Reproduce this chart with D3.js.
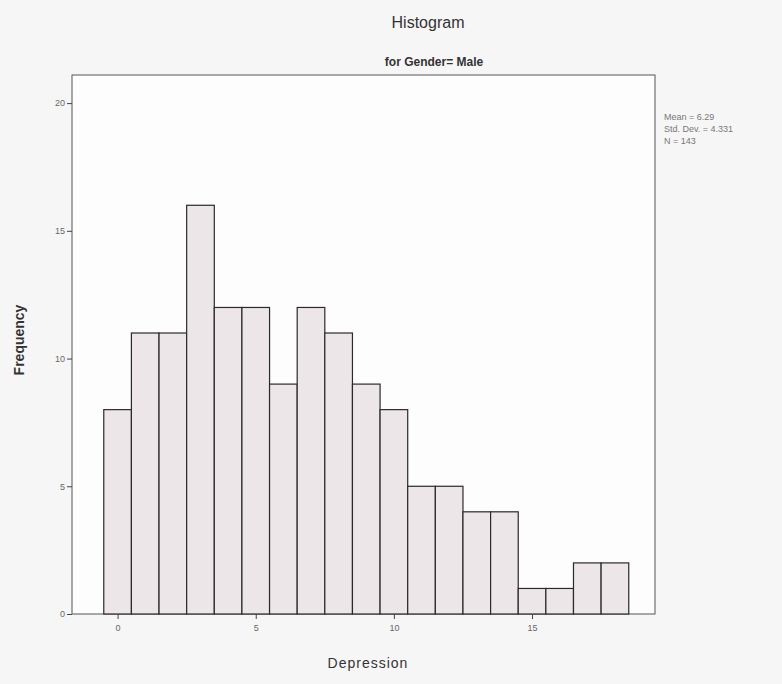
<!DOCTYPE html>
<html>
<head>
	<title>Histogram</title>
	<script src="https://cdn.jsdelivr.net/npm/d3@7"></script>
</head>
<style type="text/css">
body { margin: 0; background-color: #f7f6f6; }
.tick text { font-family: "Liberation Sans", Arial, sans-serif; font-size: 9px; fill: #666; }
.ttl { font-family: "Liberation Sans", Arial, sans-serif; fill: #333; }
</style>
<body>
</body>
<script type="text/javascript">
	var w = 782;
	var h = 684;
	// data
	var depression = [0, 1, 2, 3, 4, 5, 6, 7, 8, 9, 10, 11, 12, 13, 14, 15, 16, 17, 18];
	var frequency = [8, 11, 11, 16, 12, 12, 9, 12, 11, 9, 8, 5, 5, 4, 4, 1, 1, 2, 2];
	var xTicks = [0, 5, 10, 15];
	var yTicks = [0, 5, 10, 15, 20];
	var stats = ["Mean = 6.29", "Std. Dev. = 4.331", "N = 143"];

	var margin = {top: 75, left: 72, right: 127, bottom: 70};
	var svg = d3.select("body").append("svg").attr("width", w).attr("height", h);

	var x = d3.scaleLinear().domain([-1.65, 19.45]).range([margin.left, w - margin.right]);
	var y = d3.scaleLinear().domain([0, 21.1]).range([h - margin.bottom, margin.top]);

	// frame
	svg.append("rect")
		.attr("x", margin.left).attr("y", margin.top)
		.attr("width", w - margin.right - margin.left)
		.attr("height", h - margin.bottom - margin.top)
		.attr("fill", "#fdfdfd").attr("stroke", "#555").attr("stroke-width", 1);

	// bars
	svg.selectAll(".bar").data(depression).enter().append("rect")
		.attr("class", "bar")
		.attr("x", function(d){return x(d - 0.5);})
		.attr("width", function(d){return x(d + 0.5) - x(d - 0.5);})
		.attr("y", function(d,i){return y(frequency[i]);})
		.attr("height", function(d,i){return y(0) - y(frequency[i]);})
		.attr("fill", "#ede6e9")
		.attr("stroke", "#2a2a2a")
		.attr("stroke-width", 1.2);

	var xAxis = d3.axisBottom(x).tickValues(xTicks).tickSize(5).tickPadding(6);
	var yAxis = d3.axisLeft(y).tickValues(yTicks).tickSize(5).tickPadding(2);

	var gx = svg.append("g").attr("transform", "translate(0," + (h - margin.bottom) + ")").call(xAxis);
	var gy = svg.append("g").attr("transform", "translate(" + margin.left + ",0)").call(yAxis);
	gx.select(".domain").remove();
	gy.select(".domain").remove();
	svg.selectAll(".tick line").attr("stroke", "#444");

	// titles
	svg.append("text").attr("class", "ttl").attr("x", 428).attr("y", 28)
		.attr("text-anchor", "middle").attr("font-size", 16).text("Histogram");
	svg.append("text").attr("class", "ttl").attr("x", 434).attr("y", 66)
		.attr("text-anchor", "middle").attr("font-size", 12).attr("font-weight", "bold").text("for Gender= Male");
	svg.append("text").attr("class", "ttl").attr("x", 368).attr("y", 668)
		.attr("text-anchor", "middle").attr("font-size", 14).attr("letter-spacing", 1).text("Depression");
	svg.append("text").attr("class", "ttl")
		.attr("transform", "translate(24,340) rotate(-90)")
		.attr("text-anchor", "middle").attr("font-size", 14).attr("font-weight", "bold").text("Frequency");

	// stats
	svg.selectAll(".stat").data(stats).enter().append("text")
		.attr("class", "stat")
		.attr("x", 664)
		.attr("y", function(d,i){return 120 + i * 12;})
		.attr("font-family", "Liberation Sans, Arial, sans-serif")
		.attr("font-size", 9).attr("fill", "#777")
		.text(function(d){return d;});
</script>
</html>
